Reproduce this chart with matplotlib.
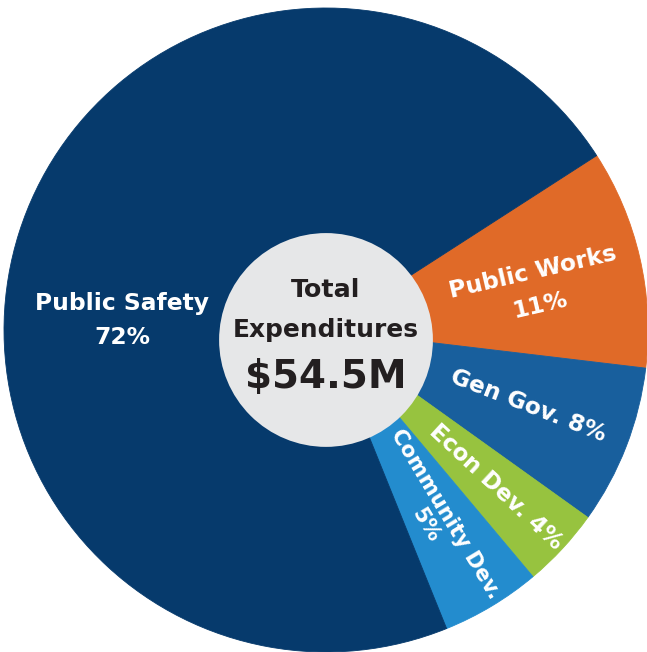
import numpy as np
import matplotlib
matplotlib.use("Agg")
import matplotlib.pyplot as plt
from matplotlib.patches import Circle

# expenditure shares (%), clockwise from the top-right
labels = ["Public Works\n11%", "Gen Gov. 8%", "Econ Dev. 4%", "Community Dev.\n5%", "Public Safety\n72%"]
shares = [11, 8, 4, 5, 72]
colors = ["#e06a28", "#185f9d", "#97c33f", "#238cce", "#063a6c"]
total_label = "$54.5M"

# label placement: fraction of radius, angle nudge, font size, line spacing
label_r = [0.665, 0.67, 0.72, 0.68, 0.634]
label_dang = [-2, 0.5, 0, -1, 15]
label_fs = [16.8, 16.8, 16.6, 15.2, 16.8]
label_ls = [1.6, 1.0, 1.0, 1.2, 1.6]
start = 32.8

plt.rcParams['font.family'] = ['DejaVu Sans']

fig = plt.figure(figsize=(6.47, 6.52), dpi=100)
ax = fig.add_axes([0, 0, 1, 1])

wedges, _ = ax.pie(shares, colors=colors, startangle=start, counterclock=False,
                   radius=1.0, wedgeprops=dict(linewidth=0))
for w, c in zip(wedges, colors):
    w.set_edgecolor(c)
    w.set_linewidth(0.6)

ax.set_xlim(-326 / 322, (647 - 326) / 322)
ax.set_ylim(-322 / 322, 330 / 322)
ax.set_aspect('equal')
ax.axis('off')

ang = start
for lab, v, r, da, fs, ls in zip(labels, shares, label_r, label_dang, label_fs, label_ls):
    span = v / sum(shares) * 360
    mid = ang - span / 2
    ang -= span
    a = mid + da
    x = r * np.cos(np.radians(a))
    y = r * np.sin(np.radians(a))
    rot = mid if v < 50 else 0
    ax.text(x, y, lab, color='white', fontsize=fs, fontweight='bold',
            ha='center', va='center', rotation=rot, rotation_mode='anchor',
            linespacing=ls, multialignment='center')

hole = Circle((0, -0.031), 0.332, facecolor='#e6e7e8', edgecolor='none', zorder=3)
ax.add_patch(hole)
ax.text(0, 0.124, "Total", color='#231f20', fontsize=18.3, fontweight='bold',
        ha='center', va='center', zorder=4)
ax.text(0, 0.0, "Expenditures", color='#231f20', fontsize=17.9, fontweight='bold',
        ha='center', va='center', zorder=4)
ax.text(0, -0.146, total_label, color='#231f20', fontsize=28, fontweight='bold',
        ha='center', va='center', zorder=4)

fig.savefig("out.png", dpi=100)
